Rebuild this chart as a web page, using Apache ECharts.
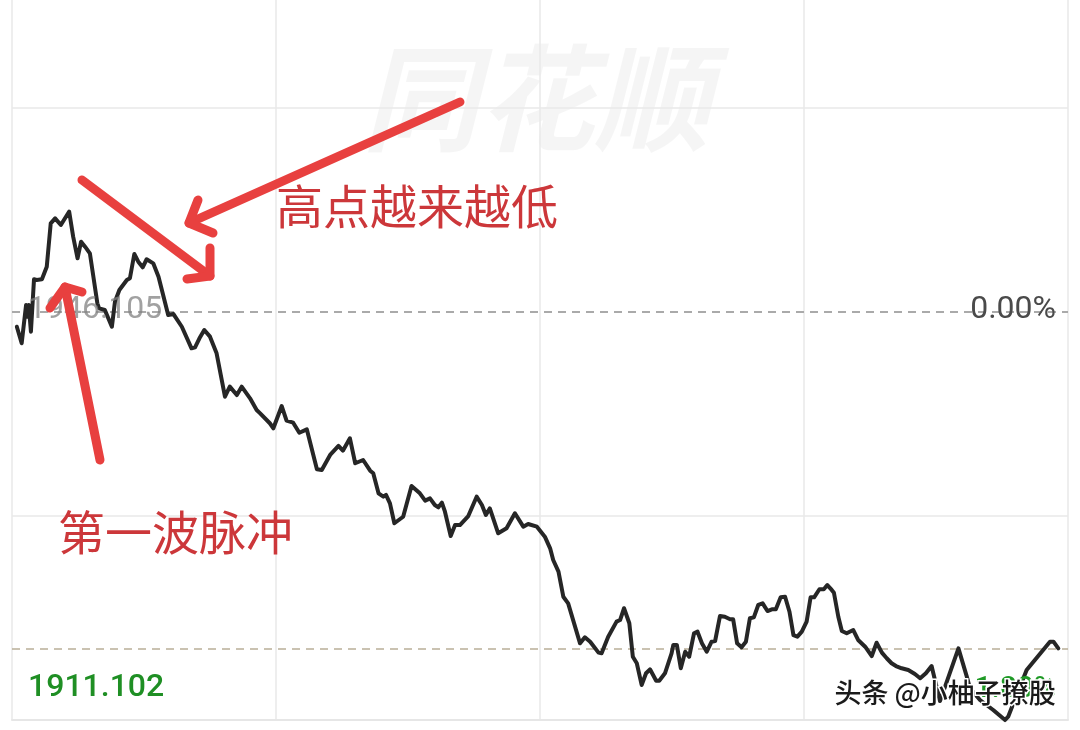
<!DOCTYPE html>
<html>
<head>
<meta charset="utf-8">
<script src="https://cdn.jsdelivr.net/npm/echarts@6/dist/echarts.min.js"></script>
<style>
html,body{margin:0;padding:0;background:#fff;}
#chart{width:1080px;height:730px;}
</style>
</head>
<body>
<div id="chart"></div>
<script>
// ---- data ----
const prevClose = 1946.105;
const dayLow = 1911.102;
const minutes = [1.1,2.2,3.2,3.5,3.8,4.3,5.0,5.6,6.8,7.9,8.8,9.8,11.1,11.8,13.0,13.9,14.9,15.7,16.6,17.7,
19.4,19.8,21.1,22.7,23.4,24.4,26.1,26.8,27.8,28.7,29.7,30.6,32.1,33.3,35.5,36.7,38.6,40.8,41.6,42.6,
43.7,45.0,46.5,48.4,49.5,51.1,52.2,54.1,55.6,56.4,58.6,59.4,61.3,62.4,63.9,65.3,67.0,69.3,70.4,72.3,
74.2,75.2,76.8,78.0,79.8,81.4,82.1,83.3,84.4,85.0,85.9,86.9,88.9,90.8,92.7,93.9,95.0,96.1,96.9,97.7,
98.4,99.7,100.7,101.8,103.7,105.6,106.8,107.7,108.6,110.5,112.4,114.3,116.2,117.3,119.3,121.1,122.3,123.0,124.2,125.3,
126.4,129.1,130.2,131.4,133.3,134.0,135.5,137.4,138.2,139.1,140.3,141.1,142.0,143.1,144.1,145.0,146.4,147.1,148.4,149.9,
150.3,151.1,152.0,153.0,153.9,155.0,155.8,156.8,157.9,159.0,159.8,160.9,162.0,163.2,163.9,164.8,165.8,166.8,167.7,168.6,
169.6,170.6,171.7,172.7,173.6,174.7,175.7,176.7,177.6,178.5,179.5,180.6,181.5,182.3,183.5,184.5,185.3,186.3,186.8,187.8,
188.6,189.7,191.2,192.3,193.9,195.4,196.5,197.7,198.8,199.9,200.9,202.2,203.7,205.2,206.4,207.7,209.0,210.9,211.8,215.1,
217.0,217.7,220.0,223.0,225.7,226.4,227.6,230.6,235.9,236.7,237.8];
const prices = [1944.84,1943.42,1946.71,1945.70,1946.71,1944.42,1948.91,1948.85,1948.91,1949.99,1953.71,1954.14,1953.57,1954.00,1954.71,1952.57,1950.71,1952.14,1951.71,1951.14,
1946.85,1946.42,1946.28,1944.84,1946.99,1947.99,1948.85,1949.00,1951.08,1950.42,1949.94,1950.63,1950.28,1949.13,1945.85,1945.93,1944.84,1942.99,1943.08,1943.85,
1944.56,1943.99,1942.56,1938.84,1939.70,1938.98,1939.70,1938.70,1937.70,1937.41,1936.56,1936.13,1938.04,1936.78,1936.61,1935.75,1936.04,1932.61,1932.55,1933.84,
1934.61,1934.21,1935.27,1933.13,1933.41,1932.49,1932.27,1930.55,1930.26,1930.41,1929.69,1927.98,1928.54,1931.18,1930.55,1929.92,1930.12,1929.55,1929.35,1929.75,
1928.97,1926.89,1927.83,1927.83,1928.60,1930.26,1929.55,1928.69,1929.26,1927.12,1927.55,1928.84,1927.69,1927.92,1927.69,1926.83,1925.83,1924.83,1923.83,1921.68,
1921.11,1917.68,1918.20,1917.82,1916.88,1916.82,1918.25,1919.54,1919.68,1920.69,1919.40,1916.53,1915.97,1914.11,1915.11,1915.45,1914.47,1914.47,1915.11,1916.82,
1917.54,1917.54,1915.54,1916.96,1916.53,1918.54,1918.68,1917.68,1916.96,1917.82,1917.88,1920.02,1919.96,1919.74,1919.74,1917.68,1917.34,1917.82,1919.83,1919.91,
1920.97,1921.11,1920.45,1920.60,1920.60,1921.63,1921.68,1920.39,1918.39,1918.25,1918.68,1919.54,1921.63,1921.63,1922.32,1922.32,1922.68,1922.26,1922.02,1919.96,
1918.74,1918.54,1918.82,1917.97,1917.39,1916.59,1917.73,1916.88,1916.40,1915.97,1915.73,1915.54,1915.39,1915.05,1914.68,1915.11,1915.73,1912.73,1913.68,1917.25,
1914.82,1913.85,1912.82,1911.96,1911.10,1911.39,1912.53,1915.39,1917.82,1917.82,1917.25];
const xTicks = [0, 60, 120, 180, 240];
const notes = ['高点越来越低', '第一波脉冲'];
const brandMark = '同花顺';
const authorMark = '头条 @小柚子撩股';

// ---- derived ----
const halfRange = prevClose - dayLow;
const visibleUpper = 312 / 408;          // part of the upper half shown in the crop
const yMin = dayLow;
const yMax = prevClose + halfRange * visibleUpper;
const lastPrice = prices[prices.length - 1];
const gridValues = [dayLow + halfRange / 2, prevClose + halfRange / 2];
const lowPct = ((dayLow / prevClose - 1) * 100).toFixed(2) + '%';

const chart = echarts.init(document.getElementById('chart'));
const red = '#e8403f';
const arrowStyle = {stroke: red, lineWidth: 9, lineCap: 'round', lineJoin: 'round', fill: null};

chart.setOption({
  animation: false,
  backgroundColor: '#ffffff',
  grid: {left: 12, right: 12, top: 0, bottom: 10, containLabel: false},
  xAxis: {
    type: 'value', min: xTicks[0], max: xTicks[xTicks.length - 1], interval: 60,
    axisLine: {show: true, lineStyle: {color: '#e6e6e6', width: 2}},
    axisTick: {show: false}, axisLabel: {show: false},
    splitLine: {show: true, lineStyle: {color: '#e8e8e8', width: 1.5}}
  },
  yAxis: {
    type: 'value', min: yMin, max: yMax,
    axisLine: {show: false}, axisTick: {show: false}, axisLabel: {show: false},
    splitLine: {show: false}
  },
  series: [{
    type: 'line',
    data: minutes.map((m, i) => [m, prices[i]]),
    showSymbol: false,
    symbol: 'none',
    clip: false,
    lineStyle: {color: '#262626', width: 4, join: 'round', cap: 'round'},
    z: 5,
    markLine: {
      silent: true, symbol: ['none', 'none'], label: {show: false},
      data: [
        {yAxis: gridValues[0], lineStyle: {color: '#e8e8e8', width: 1.5, type: 'solid'}},
        {yAxis: gridValues[1], lineStyle: {color: '#e8e8e8', width: 1.5, type: 'solid'}},
        {yAxis: prevClose, lineStyle: {color: '#aaaaaa', width: 2, type: [8, 6]}},
        {yAxis: lastPrice, lineStyle: {color: '#b9ae98', width: 1.6, type: [8, 6]}}
      ]
    }
  }],
  graphic: [
    {type: 'text', left: 362, top: 40, z: 0, silent: true,
      style: {text: brandMark, font: 'italic bold 116px "Noto Sans CJK SC"', fill: 'rgba(0,0,0,0.04)'}},
    {type: 'text', left: 28, top: 294, z: 10,
      style: {text: prevClose.toFixed(3), font: '32px Roboto', fill: 'rgba(130,130,130,0.75)'}},
    {type: 'text', right: 24, top: 294, z: 10,
      style: {text: '0.00%', font: '32px Roboto', fill: '#4a4a4a'}},
    {type: 'text', left: 28, top: 672, z: 10,
      style: {text: dayLow.toFixed(3), font: '500 32px Roboto', fill: '#1f8f24'}},
    {type: 'text', right: 24, top: 674, z: 10,
      style: {text: lowPct, font: '500 30px Roboto', fill: '#1f9a26'}},
    {type: 'text', left: 833, top: 678, z: 20,
      style: {text: authorMark, font: '500 27px "Noto Sans CJK SC"', fill: '#1a1a1a',
        stroke: '#ffffff', lineWidth: 3, shadowColor: 'rgba(0,0,0,0.4)', shadowBlur: 2}},
    // arrows
    {type: 'polyline', z: 15, shape: {points: [[100, 460], [65, 287]]}, style: arrowStyle},
    {type: 'polyline', z: 15, shape: {points: [[50, 308], [65, 287], [82, 292]]}, style: arrowStyle},
    {type: 'polyline', z: 15, shape: {points: [[82, 180], [210, 276]]}, style: arrowStyle},
    {type: 'polyline', z: 15, shape: {points: [[210, 248], [210, 276], [187, 279]]}, style: arrowStyle},
    {type: 'polyline', z: 15, shape: {points: [[460, 102], [189, 223]]}, style: arrowStyle},
    {type: 'polyline', z: 15, shape: {points: [[198, 200], [189, 223], [213, 233]]}, style: arrowStyle},
    // notes
    {type: 'text', left: 276, top: 183, z: 16,
      style: {text: notes[0], font: '47px "Noto Sans CJK SC"', fill: '#cc373a'}},
    {type: 'text', left: 58, top: 509, z: 16,
      style: {text: notes[1], font: '47px "Noto Sans CJK SC"', fill: '#cc373a'}}
  ]
});
</script>
</body>
</html>
